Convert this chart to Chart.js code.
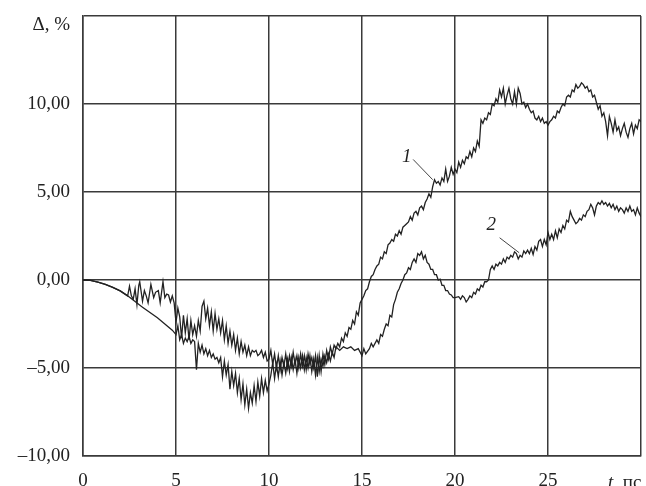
<!DOCTYPE html>
<html>
<head>
<meta charset="utf-8">
<script src="https://cdn.jsdelivr.net/npm/chart.js@4.4.0/dist/chart.umd.min.js"></script>
<style>
  html, body { margin: 0; padding: 0; background: #fff; }
  #wrap { width: 646px; height: 486px; }
</style>
</head>
<body>
<div id="wrap"><canvas id="chart"></canvas></div>
<script>
// tick values
var xTicks = [0, 5, 10, 15, 20, 25, 30];
var yTicks = [-10, -5, 0, 5, 10, 15];

// curve 1 (upper one at the end), t in ps, delta in %
var t1 = [0, 0.4, 0.8, 1.2, 1.6, 2.0, 2.4, 2.5, 2.6, 2.7, 2.8, 2.9, 3.0, 3.05, 3.2, 3.3, 3.4, 3.5, 3.65, 3.8, 3.9, 4.05, 4.15, 4.3, 4.4, 4.5, 4.6, 4.7, 4.8, 4.9,
  5.0, 5.1, 5.2, 5.3, 5.4, 5.5, 5.6, 5.7, 5.8, 5.9, 6.0, 6.1, 6.2, 6.3, 6.4, 6.5, 6.6, 6.7, 6.8, 6.9, 7.0, 7.1, 7.2, 7.3, 7.4, 7.5, 7.6, 7.7, 7.8, 7.9,
  8.0, 8.1, 8.2, 8.3, 8.4, 8.5, 8.6, 8.7, 8.8, 8.9, 9.0, 9.1, 9.2, 9.3, 9.4, 9.5, 9.6, 9.7, 9.8, 9.9, 10.0, 10.1, 10.2, 10.3, 10.4, 10.5, 10.6, 10.7, 10.8, 10.9,
  11.0, 11.1, 11.2, 11.3, 11.4, 11.5, 11.6, 11.7, 11.8, 11.9, 12.0, 12.1, 12.2, 12.3, 12.4, 12.5, 12.6, 12.7, 12.8, 12.9, 13.0, 13.1, 13.2, 13.3, 13.4, 13.5, 13.6, 13.7, 13.8, 13.9,
  14.0, 14.1, 14.2, 14.3, 14.4, 14.5, 14.6, 14.7, 14.8, 14.9, 15.0, 15.1, 15.2, 15.3, 15.4, 15.5, 15.6, 15.7, 15.8, 15.9, 16.0, 16.1, 16.2, 16.3, 16.4, 16.5, 16.6, 16.7, 16.8, 16.9,
  17.0, 17.1, 17.2, 17.3, 17.4, 17.5, 17.6, 17.7, 17.8, 17.9, 18.0, 18.1, 18.2, 18.3, 18.4, 18.5, 18.6, 18.7, 18.8, 18.9, 19.0, 19.1, 19.2, 19.3, 19.4, 19.5, 19.6, 19.7, 19.8, 19.9,
  20.0, 20.1, 20.2, 20.3, 20.4, 20.5, 20.6, 20.7, 20.8, 20.9, 21.0, 21.1, 21.2, 21.3, 21.4, 21.5, 21.6, 21.7, 21.8, 21.9, 22.0, 22.1, 22.2, 22.3, 22.4, 22.5, 22.6, 22.7, 22.8, 22.9,
  23.0, 23.1, 23.2, 23.3, 23.4, 23.5, 23.6, 23.7, 23.8, 23.9, 24.0, 24.1, 24.2, 24.3, 24.4, 24.5, 24.6, 24.7, 24.8, 24.9, 25.0, 25.1, 25.2, 25.3, 25.4, 25.5, 25.6, 25.7, 25.8, 25.9,
  26.0, 26.1, 26.2, 26.3, 26.4, 26.5, 26.6, 26.7, 26.8, 26.9, 27.0, 27.1, 27.2, 27.3, 27.4, 27.5, 27.6, 27.7, 27.8, 27.9, 28.0, 28.1, 28.2, 28.3, 28.4, 28.5, 28.6, 28.7, 28.8, 28.9,
  29.0, 29.1, 29.2, 29.3, 29.4, 29.5, 29.6, 29.7, 29.8, 29.9, 30.0];
var d1 = [0, -0.02, -0.12, -0.25, -0.42, -0.62, -0.9, -0.35, -0.9, -1.1, -0.5, -1.4, -0.3, -0.1, -1.2, -0.6, -0.9, -1.3, -0.25, -1.0, -0.7, -0.6, -1.3, -0.1, -1.0, -0.8, -0.85, -1.25, -0.9, -1.3,
  -2.4, -1.6, -2.1, -3.3, -2.0, -3.0, -2.2, -3.4, -2.3, -3.1, -2.6, -3.2, -2.3, -2.9, -1.5, -1.2, -2.2, -1.6, -2.6, -1.8, -2.9, -1.9, -2.8, -2.2, -3.0, -2.3, -3.4, -2.6, -3.6, -2.9,
  -3.7, -3.1, -4.0, -3.3, -4.2, -3.5, -4.1, -3.7, -4.3, -3.8, -4.3, -4.0, -4.1, -4.0, -4.3, -4.2, -4.0, -4.4, -4.1, -4.6, -4.5, -4.0, -4.8, -4.2, -5.0, -4.3, -5.1, -4.4, -4.9, -4.2,
  -5.0, -4.3, -4.9, -4.1, -4.8, -4.3, -5.0, -4.2, -4.9, -4.3, -5.1, -4.2, -4.8, -4.4, -5.0, -4.3, -5.5, -4.3, -5.2, -4.2, -4.8, -4.0, -4.5, -3.8, -4.2, -3.7, -3.9, -3.6, -3.8, -3.3,
  -3.5, -3.0, -3.2, -2.7, -2.8, -2.3, -2.5, -1.8, -2.0, -1.3, -1.1, -0.9, -0.6, -0.5, -0.1, 0.2, 0.3, 0.6, 0.8, 0.9, 1.3, 1.2, 1.6, 1.5, 2.0, 2.1, 2.3, 2.2, 2.6, 2.5,
  2.8, 2.6, 3.0, 3.1, 3.2, 3.3, 3.6, 3.4, 3.8, 3.9, 3.7, 4.1, 4.2, 4.0, 4.4, 4.6, 4.9, 4.7, 5.3, 5.7, 5.5, 5.6, 5.4, 5.8, 5.6, 6.3, 5.6, 5.9, 6.4, 6.0,
  6.3, 6.1, 6.7, 6.4, 6.8, 6.6, 7.0, 6.9, 7.3, 7.0, 7.5, 7.3, 7.9, 7.6, 9.1, 8.9, 9.2, 9.1, 9.5, 9.4, 10.0, 9.9, 10.3, 10.1, 10.8, 10.4, 10.9, 10.0, 10.5, 10.9,
  10.3, 10.0, 10.7, 10.0, 10.9, 10.6, 10.0, 10.1, 9.8, 10.0, 9.7, 9.5, 9.6, 9.2, 9.1, 9.3, 9.0, 9.2, 8.9, 9.0, 8.8, 9.0, 9.1, 9.3, 9.2, 9.6, 9.5, 9.8, 10.0, 9.9,
  10.4, 10.5, 10.4, 10.8, 10.7, 11.1, 10.9, 11.0, 11.2, 11.1, 10.9, 11.0, 10.7, 10.8, 10.4, 10.5, 10.1, 9.7, 9.9, 9.3, 9.5, 9.0, 8.2, 9.3, 8.9, 8.4, 9.1, 8.5, 8.7, 8.2,
  8.6, 8.9, 8.4, 8.1, 8.6, 8.9, 8.3, 8.8, 8.6, 9.1, 9.0];

// curve 2 (lower one at the end)
var t2 = [0, 0.4, 0.8, 1.2, 1.6, 2.0, 2.4, 2.8, 3.2, 3.6, 4.0, 4.4, 4.8,
  5.0, 5.1, 5.2, 5.3, 5.4, 5.5, 5.6, 5.7, 5.8, 5.9, 6.0, 6.1, 6.2, 6.3, 6.4, 6.5, 6.6, 6.7, 6.8, 6.9, 7.0, 7.1, 7.2, 7.3, 7.4, 7.5, 7.6, 7.7, 7.8, 7.9,
  8.0, 8.1, 8.2, 8.3, 8.4, 8.5, 8.6, 8.7, 8.8, 8.9, 9.0, 9.1, 9.2, 9.3, 9.4, 9.5, 9.6, 9.7, 9.8, 9.9, 10.0, 10.1, 10.2, 10.3, 10.4, 10.5, 10.6, 10.7, 10.8, 10.9,
  11.0, 11.1, 11.2, 11.3, 11.4, 11.5, 11.6, 11.7, 11.8, 11.9, 12.0, 12.1, 12.2, 12.3, 12.4, 12.5, 12.6, 12.7, 12.8, 12.9, 13.0, 13.1, 13.2, 13.3, 13.4, 13.5, 13.6, 13.8,
  14.0, 14.2, 14.4, 14.6, 14.8, 15.0, 15.1, 15.2, 15.4, 15.5, 15.6, 15.8, 15.9, 16.0, 16.1, 16.2, 16.3, 16.4, 16.5, 16.6, 16.7, 16.8, 16.9,
  17.0, 17.1, 17.2, 17.3, 17.4, 17.5, 17.6, 17.7, 17.8, 17.9, 18.0, 18.1, 18.2, 18.3, 18.4, 18.5, 18.6, 18.7, 18.8, 18.9, 19.0, 19.1, 19.2, 19.3, 19.4, 19.5, 19.6, 19.7, 19.8, 19.9,
  20.0, 20.2, 20.3, 20.4, 20.5, 20.6, 20.7, 20.8, 20.9, 21.0, 21.1, 21.2, 21.3, 21.4, 21.5, 21.6, 21.7, 21.8, 21.9, 22.0, 22.1, 22.2, 22.3, 22.4, 22.5, 22.6, 22.7, 22.8, 22.9,
  23.0, 23.1, 23.2, 23.3, 23.4, 23.5, 23.6, 23.7, 23.8, 23.9, 24.0, 24.1, 24.2, 24.3, 24.4, 24.5, 24.6, 24.7, 24.8, 24.9, 25.0, 25.1, 25.2, 25.3, 25.4, 25.5, 25.6, 25.7, 25.8, 25.9,
  26.0, 26.1, 26.2, 26.3, 26.4, 26.5, 26.6, 26.7, 26.8, 26.9, 27.0, 27.1, 27.2, 27.3, 27.4, 27.5, 27.6, 27.7, 27.8, 27.9, 28.0, 28.1, 28.2, 28.3, 28.4, 28.5, 28.6, 28.7, 28.8, 28.9,
  29.0, 29.1, 29.2, 29.3, 29.4, 29.5, 29.6, 29.7, 29.8, 29.9, 30.0];
var d2 = [0, -0.02, -0.12, -0.25, -0.42, -0.62, -0.9, -1.22, -1.55, -1.85, -2.15, -2.5, -2.85,
  -3.1, -2.6, -3.4, -3.1, -3.6, -3.3, -3.5, -3.2, -3.6, -3.4, -3.5, -5.1, -3.6, -4.1, -3.7, -4.2, -3.9, -4.3, -4.0, -4.4, -4.2, -4.5, -4.4, -4.7, -4.4, -5.5, -4.6, -5.4, -4.8, -6.2,
  -5.2, -6.0, -5.3, -6.4, -5.6, -6.8, -5.9, -7.1, -6.2, -7.3, -6.4, -7.0, -6.0, -6.9, -5.8, -6.6, -5.6, -6.4, -5.7, -6.3, -5.9, -5.4, -4.7, -5.6, -4.8, -5.5, -4.6, -5.4, -4.7, -5.3,
  -4.5, -5.2, -4.4, -5.1, -4.5, -5.3, -4.4, -5.0, -4.3, -5.1, -4.4, -5.0, -4.3, -5.2, -4.5, -5.4, -4.4, -5.2, -4.5, -4.9, -4.3, -4.7, -4.2, -4.6, -4.1, -4.4, -3.8, -4.0,
  -3.8, -3.9, -3.8, -4.0, -3.9, -4.3, -3.9, -4.2, -3.9, -3.6, -3.8, -3.4, -3.6, -3.1, -3.2, -2.8, -2.5, -2.6, -2.0, -2.1, -1.4, -1.1, -0.7,
  -0.5, -0.2, 0.0, 0.3, 0.4, 0.7, 0.6, 1.0, 1.2, 1.0, 1.5, 1.4, 1.6, 1.2, 1.4, 1.0, 0.9, 0.6, 0.6, 0.3, 0.3, 0.0, 0.05, -0.3, -0.3, -0.6, -0.6, -0.8, -0.85, -1.0,
  -1.0, -0.95, -1.1, -0.9, -1.0, -1.25, -1.1, -0.9, -1.0, -0.7, -0.8, -0.5, -0.6, -0.3, -0.4, -0.1, -0.1, 0.0, 0.6, 0.8, 0.6, 0.9, 0.8, 1.0, 0.9, 1.2, 1.0, 1.3, 1.2,
  1.4, 1.3, 1.6, 1.5, 1.2, 1.4, 1.3, 1.65, 1.5, 1.7, 1.5, 1.8, 1.45, 1.9, 1.7, 2.2, 2.3, 1.9, 2.3, 2.0, 2.7, 2.3, 2.6, 2.3, 2.8, 2.4, 2.9, 2.7, 3.1, 2.9,
  3.4, 3.3, 3.9, 3.6, 3.4, 3.2, 3.3, 3.5, 3.4, 3.7, 3.6, 3.9, 4.0, 4.3, 4.1, 3.7, 4.2, 4.4, 4.3, 4.5, 4.3, 4.4, 4.2, 4.35, 4.1, 4.3, 4.0, 4.2, 3.9, 4.1,
  4.0, 3.8, 4.1, 3.9, 4.2, 3.9, 4.0, 3.7, 4.1, 3.8, 3.6];

// curve labels with leader lines, in data units
var curveNames = ['1', '2'];
var nameAt = [[17.4, 7.0], [21.95, 3.15]];
var leaderFrom = [[17.75, 6.85], [22.4, 2.4]];
var leaderTo = [[18.8, 5.7], [23.45, 1.55]];

function pts(t, d) {
  return t.map(function(v, i) { return {x: v, y: d[i]}; });
}

function fmtY(v) {
  var s = Math.abs(v).toFixed(2).replace('.', ',');
  return v < 0 ? '\u2013' + s : s;
}

var serif = '"Liberation Serif", "Times New Roman", serif';
var ink = '#222';
var gridInk = '#3a3a3a';

var extraText = {
  id: 'extraText',
  afterDraw: function(chart) {
    var ctx = chart.ctx;
    var xs = chart.scales.x, ys = chart.scales.y;
    ctx.save();
    ctx.fillStyle = ink;
    ctx.textBaseline = 'alphabetic';

    // y axis title in place of the top tick
    ctx.font = '19px ' + serif;
    ctx.textAlign = 'right';
    ctx.fillText('\u0394, %', chart.chartArea.left - 13, ys.getPixelForValue(15) + 14);

    // x axis title at the right end
    var by = chart.chartArea.bottom + 32;
    var x0 = xs.getPixelForValue(30) - 33;
    ctx.textAlign = 'left';
    ctx.font = 'italic 19px ' + serif;
    ctx.fillText('t', x0, by);
    var w = ctx.measureText('t').width;
    ctx.font = '19px ' + serif;
    ctx.fillText(', \u043f\u0441', x0 + w, by);

    // curve numbers and leaders
    ctx.font = 'italic 19px ' + serif;
    ctx.textAlign = 'center';
    ctx.textBaseline = 'middle';
    ctx.strokeStyle = '#444';
    ctx.lineWidth = 1;
    for (var i = 0; i < curveNames.length; i++) {
      ctx.fillText(curveNames[i], xs.getPixelForValue(nameAt[i][0]), ys.getPixelForValue(nameAt[i][1]));
      ctx.beginPath();
      ctx.moveTo(xs.getPixelForValue(leaderFrom[i][0]), ys.getPixelForValue(leaderFrom[i][1]));
      ctx.lineTo(xs.getPixelForValue(leaderTo[i][0]), ys.getPixelForValue(leaderTo[i][1]));
      ctx.stroke();
    }
    ctx.restore();
  }
};

var ctx = document.getElementById('chart').getContext('2d');
var chart = new Chart(ctx, {
  type: 'line',
  data: {
    datasets: [{
      label: '1',
      data: pts(t1, d1),
      borderColor: '#222',
      borderWidth: 1.3,
      pointRadius: 0,
      tension: 0,
      fill: false
    }, {
      label: '2',
      data: pts(t2, d2),
      borderColor: '#222',
      borderWidth: 1.3,
      pointRadius: 0,
      tension: 0,
      fill: false
    }]
  },
  options: {
    responsive: true,
    maintainAspectRatio: false,
    animation: false,
    layout: { padding: { top: 16, right: 5, left: 0, bottom: 0 } },
    plugins: {
      legend: { display: false },
      tooltip: { enabled: false }
    },
    scales: {
      x: {
        type: 'linear',
        min: 0,
        max: 30,
        afterFit: function(s) {
          s.height = 30;
          s.paddingLeft = 0;
          s.paddingRight = 0;
        },
        afterBuildTicks: function(s) { s.ticks = xTicks.map(function(v) { return {value: v}; }); },
        ticks: {
          padding: 14,
          maxRotation: 0,
          color: ink,
          font: { family: serif, size: 19 },
          callback: function(v) { return v === 30 ? '' : String(v); }
        },
        grid: { color: gridInk, lineWidth: 1.5, drawTicks: false },
        border: { color: gridInk, width: 1.5 }
      },
      y: {
        min: -10,
        max: 15,
        afterFit: function(s) {
          s.width = 83;
          s.paddingTop = 0;
          s.paddingBottom = 0;
        },
        afterBuildTicks: function(s) { s.ticks = yTicks.map(function(v) { return {value: v}; }); },
        ticks: {
          padding: 13,
          color: ink,
          font: { family: serif, size: 19 },
          callback: function(v) { return v === 15 ? '' : fmtY(v); }
        },
        grid: { color: gridInk, lineWidth: 1.5, drawTicks: false },
        border: { color: gridInk, width: 1.5 }
      }
    }
  },
  plugins: [extraText]
});
</script>
</body>
</html>
